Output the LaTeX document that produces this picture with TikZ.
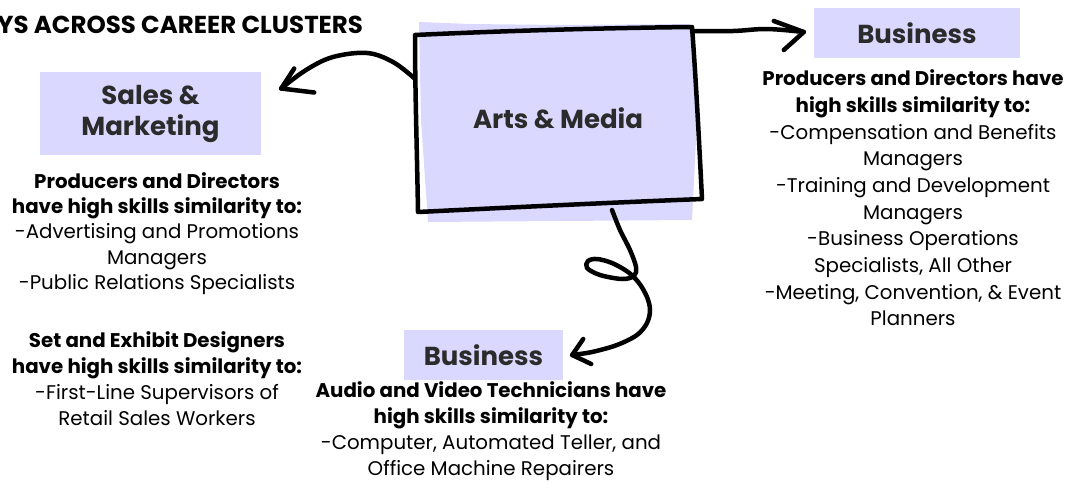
\documentclass[tikz,border=0pt]{standalone}
\usepackage{fontspec}
\setmainfont{Poppins}
\usetikzlibrary{arrows.meta}
\definecolor{lav}{HTML}{DAD8FE}
\definecolor{headc}{HTML}{2B2B2B}
\tikzset{
  catbox/.style={fill=lav, inner sep=0pt, align=center, text=headc, font=\fontsize{26}{31}\selectfont\bfseries},
  body/.style={inner sep=0pt, align=center, font=\fontsize{19.8}{26}\selectfont},
  conn/.style={line width=4.5pt, line cap=round, line join=round},
  sketch/.style={line width=4.5pt, line cap=round, line join=round}
}
\begin{document}
\begin{tikzpicture}[x=1pt,y=-1pt]
\useasboundingbox (0,0) rectangle (1068,485);

% title (cut off at left edge)
\node[anchor=west, inner sep=0pt, font=\fontsize{24.5}{26}\selectfont\bfseries] (title) at (-3,25) {YS ACROSS CAREER CLUSTERS};

% category boxes
\node[catbox, minimum width=221pt, minimum height=83pt] (sales) at (150.5,113.5) {Sales \&\\Marketing};
\node[catbox, minimum width=206pt, minimum height=50pt] (busr) at (917,33) {Business};
\node[catbox, minimum width=159pt, minimum height=50pt] (busb) at (483.5,355) {Business};

% central hand-drawn box
\fill[lav] (419,22) -- (470,24) -- (560,25) -- (690,24) -- (697,120) -- (692,220) -- (560,221) -- (428,222) -- (421,120) -- cycle;
\draw[sketch] (415,35) .. controls (500,31) and (600,28) .. (692,27)
  .. controls (696,80) and (699,140) .. (702,199)
  .. controls (600,203) and (500,208) .. (418,212)
  .. controls (417,150) and (415,90) .. cycle;
\node[inner sep=0pt, minimum width=280pt, minimum height=180pt, text=headc, font=\fontsize{26}{30}\selectfont\bfseries] (arts) at (558,118) {Arts \& Media};

\coordinate (aL) at (414,78);
\coordinate (aTR) at (692,31);
\coordinate (aB) at (612,210);
\coordinate (t1) at ([xshift=20pt,yshift=25pt]sales.east);
\coordinate (t2) at ([xshift=-10pt,yshift=1pt]busr.west);
\coordinate (t3) at ([xshift=9pt]busb.east);

% connectors
\draw[conn] plot[smooth, tension=0.6] coordinates {(aL) (393,62) (367,53) (333,57) (306,70) (t1)};
\draw[conn] (t1) -- ++(13,-20) (t1) -- ++(33,4);
\draw[conn] plot[smooth, tension=0.6] coordinates {(aTR) (733,31) (767,29) (t2)};
\draw[conn] (t2) -- ++(-30,-11) (t2) -- ++(-20,18);
\draw[conn] plot[smooth, tension=0.55] coordinates {(aB) (620,230) (630,250) (636,267) (634,276) (622,279) (600,275) (587,268) (588,261) (597,259) (612,263) (628,272) (639,283) (647,297) (650,310) (647,323) (637,335) (617,345) (592,352) (t3)};
\draw[conn] (t3) -- ++(11,-16) (t3) -- ++(19,9);

% descriptions
\node[body, font=\fontsize{19.8}{26.7}\selectfont] (tr) at (913,198) {\textbf{Producers and Directors have}\\\textbf{high skills similarity to:}\\-Compensation and Benefits\\Managers\\-Training and Development\\Managers\\-Business Operations\\Specialists, All Other\\-Meeting, Convention, \& Event\\Planners};
\node[body, font=\fontsize{19.8}{25.3}\selectfont] (tl1) at (157,233.5) {\textbf{Producers and Directors}\\\textbf{have high skills similarity to:}\\-Advertising and Promotions\\Managers\\-Public Relations Specialists};
\node[body] (tl2) at (157,379) {\textbf{Set and Exhibit Designers}\\\textbf{have high skills similarity to:}\\-First-Line Supervisors of\\Retail Sales Workers};
\node[body] (tb) at (491,431.5) {\textbf{Audio and Video Technicians have}\\\textbf{high skills similarity to:}\\-Computer, Automated Teller, and\\Office Machine Repairers};
\end{tikzpicture}
\end{document}
